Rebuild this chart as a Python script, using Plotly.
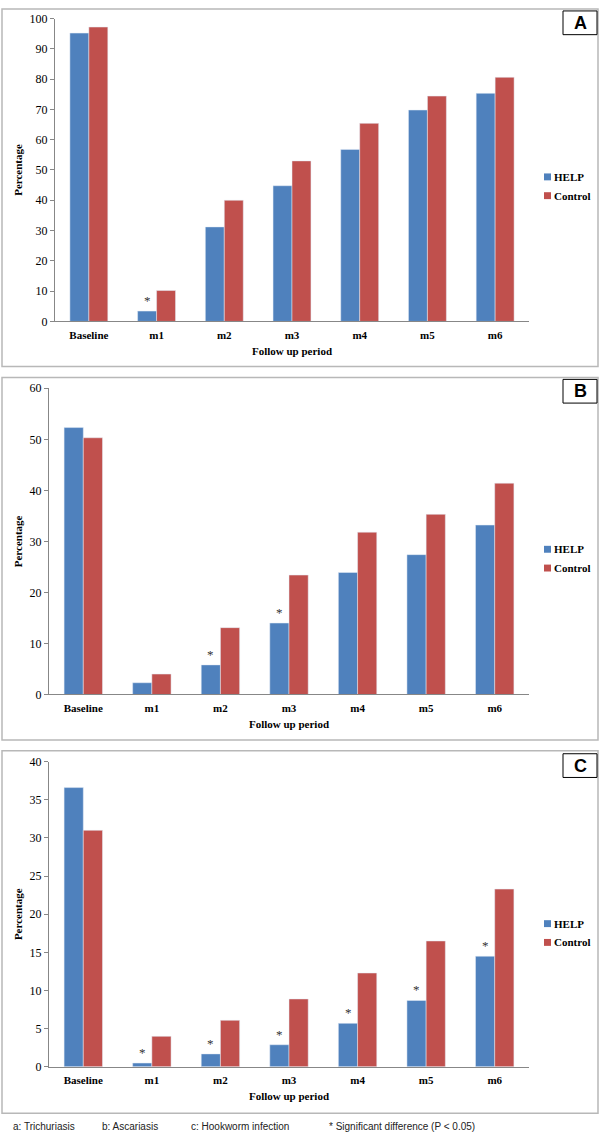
import plotly.graph_objects as go

categories = ["Baseline", "m1", "m2", "m3", "m4", "m5", "m6"]

help_a = [95.2, 3.4, 31.2, 44.8, 56.8, 69.8, 75.3]
control_a = [97.2, 10.2, 40.0, 53.0, 65.4, 74.4, 80.6]
sig_a = ["m1"]

help_b = [52.3, 2.3, 5.8, 14.0, 23.9, 27.4, 33.2]
control_b = [50.3, 4.0, 13.1, 23.4, 31.8, 35.3, 41.4]
sig_b = ["m2", "m3"]

help_c = [36.6, 0.5, 1.7, 2.9, 5.7, 8.7, 14.5]
control_c = [31.0, 4.0, 6.1, 8.9, 12.3, 16.5, 23.3]
sig_c = ["m1", "m2", "m3", "m4", "m5", "m6"]

panel_labels = ["A", "B", "C"]
y_ranges = [[0, 100], [0, 60], [0, 40]]
y_dticks = [10, 10, 5]
footer = ["a: Trichuriasis", "b: Ascariasis", "c: Hookworm infection", "* Significant difference (P < 0.05)"]

W, H = 600, 1144
BLUE = "#4F81BD"
RED = "#C0504D"
AXIS = "#878787"
SERIF = "Liberation Serif"
SANS = "Liberation Sans"


def px_x(p):
    return p / W


def px_y(p):
    return 1 - p / H


# pixel geometry of each panel
panels = [
    dict(x0=55, x1=529, ytop=11.7, ybot=318.3, box=(2, 2, 598, 364), lab=(563, 4, 597, 28), leg=172),
    dict(x0=49, x1=529, ytop=386, ybot=696, box=(2, 375, 598, 742), lab=(563, 377, 597, 401), leg=549),
    dict(x0=49, x1=529, ytop=764, ybot=1073, box=(2, 753, 598, 1120), lab=(563, 756, 597, 780), leg=928),
]

data = [(help_a, control_a, sig_a), (help_b, control_b, sig_b), (help_c, control_c, sig_c)]

fig = go.Figure()
shapes = []
annotations = []

for i, (p, (hv, cv, sig)) in enumerate(zip(panels, data)):
    n = "" if i == 0 else str(i + 1)
    xa = "x" + n
    ya = "y" + n
    fig.add_trace(go.Bar(x=categories, y=hv, name="HELP", marker_color=BLUE,
                         xaxis=xa, yaxis=ya, showlegend=False))
    fig.add_trace(go.Bar(x=categories, y=cv, name="Control", marker_color=RED,
                         xaxis=xa, yaxis=ya, showlegend=False))

    fig.layout["xaxis" + n] = dict(
        domain=[px_x(p["x0"]), px_x(p["x1"])], anchor=ya,
        showline=True, linecolor=AXIS, linewidth=1, ticks="", showgrid=False,
        tickfont=dict(family=SERIF, size=11, color="black"),
        ticklabelstandoff=3,
        title=dict(text="<b>Follow up period</b>", font=dict(family=SERIF, size=11, color="black"), standoff=7),
        type="category",
        tickvals=categories,
        ticktext=["<b>%s</b>" % c for c in categories],
    )
    fig.layout["yaxis" + n] = dict(
        domain=[px_y(p["ybot"]), px_y(p["ytop"])], anchor=xa,
        range=y_ranges[i], dtick=y_dticks[i], tick0=0,
        showline=True, linecolor=AXIS, linewidth=1, ticks="outside", ticklen=4, tickcolor=AXIS,
        showgrid=False, zeroline=False,
        tickfont=dict(family=SERIF, size=12, color="black"),
        title=dict(text="<b>Percentage</b>", font=dict(family=SERIF, size=11, color="black"), standoff=4),
    )

    # significance stars above HELP bars
    for c in sig:
        k = categories.index(c)
        annotations.append(dict(x=c, y=hv[k], xref=xa, yref=ya, text="*", showarrow=False,
                                xshift=-9.5, yshift=1, yanchor="bottom",
                                font=dict(family=SERIF, size=13, color="#333333")))

    # panel border
    bx0, by0, bx1, by1 = p["box"]
    shapes.append(dict(type="rect", xref="paper", yref="paper",
                       x0=px_x(bx0), x1=px_x(bx1), y0=px_y(by1), y1=px_y(by0),
                       line=dict(color="#B8B8B8", width=1.5)))
    # panel label box
    lx0, ly0, lx1, ly1 = p["lab"]
    shapes.append(dict(type="rect", xref="paper", yref="paper",
                       x0=px_x(lx0), x1=px_x(lx1), y0=px_y(ly1), y1=px_y(ly0),
                       line=dict(color="black", width=1), fillcolor="white"))
    annotations.append(dict(x=px_x((lx0 + lx1) / 2), y=px_y((ly0 + ly1) / 2), xref="paper", yref="paper",
                            text="<b>%s</b>" % panel_labels[i], showarrow=False,
                            xanchor="center", yanchor="middle",
                            font=dict(family=SANS, size=18, color="black")))

    # legend (manual)
    for j, (nm, col) in enumerate([("HELP", BLUE), ("Control", RED)]):
        yc = p["leg"] + j * 19
        shapes.append(dict(type="rect", xref="paper", yref="paper",
                           x0=px_x(544), x1=px_x(551), y0=px_y(yc + 3.5), y1=px_y(yc - 3.5),
                           line=dict(width=0), fillcolor=col))
        annotations.append(dict(x=px_x(552), y=px_y(yc), xref="paper", yref="paper",
                                text="<b>%s</b>" % nm, showarrow=False, xanchor="left", yanchor="middle",
                                font=dict(family=SERIF, size=11, color="black")))

for t, xp in zip(footer, [11, 100, 189, 327]):
    annotations.append(dict(x=px_x(xp), y=px_y(1133), xref="paper", yref="paper", text=t,
                            showarrow=False, xanchor="left", yanchor="middle",
                            font=dict(family=SANS, size=10, color="#222222")))

fig.update_layout(
    width=W, height=H,
    margin=dict(l=0, r=0, t=0, b=0),
    paper_bgcolor="white", plot_bgcolor="white",
    barmode="group", bargap=0.44, bargroupgap=0,
    shapes=shapes, annotations=annotations,
    showlegend=False,
)

fig.write_html("out.html", config={"displayModeBar": False})

# remove the default page margin so the 600x1144 figure fills the window exactly
with open("out.html", "r", encoding="utf-8") as f:
    html = f.read()
html = html.replace("<head>", "<head><style>html,body{margin:0;padding:0;overflow:hidden;}</style>", 1)
with open("out.html", "w", encoding="utf-8") as f:
    f.write(html)
